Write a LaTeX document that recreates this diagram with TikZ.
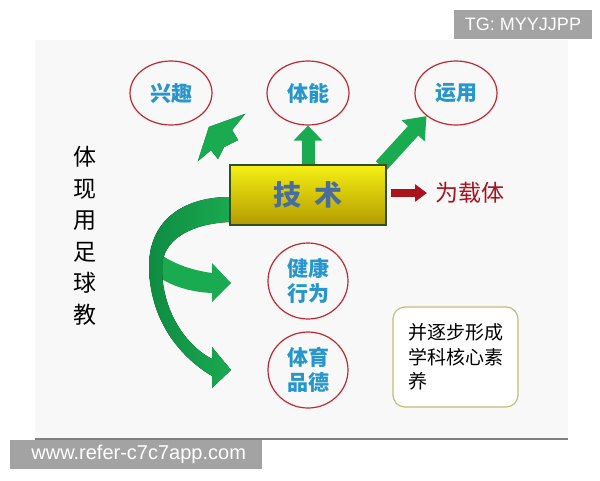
\documentclass[tikz,border=0pt]{standalone}
\usepackage{fontspec}
\setsansfont{Liberation Sans}
\newfontfamily\cjk{Noto Sans CJK SC}
\usetikzlibrary{shapes.geometric,arrows.meta,backgrounds,positioning}

\definecolor{ringred}{RGB}{192,40,48}
\definecolor{labelblue}{RGB}{38,150,205}
\definecolor{techblue}{RGB}{72,110,160}
\definecolor{arrowgreen}{RGB}{26,170,80}
\definecolor{stemgreen}{RGB}{14,140,66}
\definecolor{carrierred}{RGB}{170,18,30}
\definecolor{noteedge}{RGB}{190,192,120}
\definecolor{slidebg}{RGB}{248,248,248}
\definecolor{markgray}{RGB}{163,163,163}

\tikzset{
  ring/.style={draw=ringred, line width=1.2pt, ellipse, minimum width=82pt,
    minimum height=64pt, inner sep=0pt, align=center, text=labelblue,
    font=\cjk\bfseries\fontsize{21}{26}\selectfont},
  techbox/.style={draw={rgb,255:red,50;green,80;blue,40}, line width=1.2pt,
    top color={rgb,255:red,245;green,240;blue,20}, middle color=yellow,
    bottom color={rgb,255:red,180;green,155;blue,0},
    minimum width=156pt, minimum height=60pt, text=techblue,
    font=\cjk\bfseries\fontsize{28}{30}\selectfont},
  greenarrow/.style={draw=arrowgreen},
  markbox/.style={fill=markgray, text=white, inner sep=0pt,
    minimum height=29pt, font=\sffamily}
}

\begin{document}
\begin{tikzpicture}[x=1pt,y=-1pt]
\useasboundingbox (0,0) rectangle (600,480);

% slide
\begin{scope}[on background layer]
\fill[slidebg] (35,40) rectangle (568,440);
\draw[gray, line width=2pt] (35,439) -- (568,439);
\end{scope}

% the five aims
\node[ring] (xingqu) at (171,93) {兴趣};
\node[ring] (tineng) at (308,93) {体能};
\node[ring] (yunyong) at (456,93) {运用};
\node[ring, minimum width=80pt, minimum height=76pt] (jiankang) at (308,281) {健康\\[-1pt]行为};
\node[ring, minimum width=80pt, minimum height=76pt] (pinde) at (308,370) {体育\\[-1pt]品德};

% technique in the middle
\node[techbox] (jishu) at (308,195) {技\hspace{0.45em}术};
\node[anchor=west, text=carrierred, font=\cjk\fontsize{23}{25}\selectfont] (zaiti) at (432,193) {为载体};
\draw[carrierred, line width=8pt, shorten <=4pt, shorten >=5pt,
  -{Triangle[length=12pt,width=17pt]}] (jishu.east |- zaiti.west) -- (zaiti.west);

% left column
\node[font=\cjk\fontsize{23}{31.5}\selectfont, align=center] (tixian) at (85,236) {体\\现\\用\\足\\球\\教};

% note
\node[draw=noteedge, line width=1.2pt, fill=white, rounded corners=12pt,
  minimum width=125pt, minimum height=100pt, align=left,
  font=\cjk\fontsize{19}{24.5}\selectfont] (note) at (455.5,357) {并逐步形成\\学科核心素\\养\hphantom{逐步形成}};

% green arrows
\begin{scope}[on background layer]
\draw[greenarrow, line width=13pt, -{Triangle[length=15pt,width=28pt]}] (jishu.north) -- (tineng.south);
\coordinate (diagtail) at (381,166);
\draw[greenarrow, line width=14pt, -{Triangle[length=20pt,width=30pt]}] (diagtail) -- (yunyong.south west);
% broken arrow towards xingqu
\filldraw[fill=arrowgreen, draw=stemgreen] (245,114) -- (209,127) -- (198,161) -- (211,150)
  -- (218,159) -- (224,147) -- (238,140) -- (232,130) -- cycle;
% curved arrows
\fill[arrowgreen] (151,246) .. controls (166,262) and (190,270) .. (212,273) -- (212,263)
  -- (231,283) -- (212,302) -- (212,293) .. controls (185,292) and (160,282) .. (149,268) -- cycle;
\fill[left color=stemgreen, right color=arrowgreen] (229,197) .. controls (190,197) and (150,215) .. (149,265)
  .. controls (149,320) and (180,357) .. (212,376) -- (212,388) -- (231,370) -- (212,347)
  -- (212,359) .. controls (185,345) and (162,310) .. (162,268)
  .. controls (162,240) and (190,224) .. (229,222) -- cycle;
\end{scope}

% marks
\node[markbox, minimum width=138pt, font=\sffamily\fontsize{18}{20}\selectfont] (tg) at (523,24.5) {TG: MYYJJPP};
\node[markbox, anchor=north west, minimum width=252pt, font=\sffamily\fontsize{20}{22}\selectfont] (www) at (10,440) {\hspace{5pt}www.refer-c7c7app.com\hfill};
\end{tikzpicture}
\end{document}
